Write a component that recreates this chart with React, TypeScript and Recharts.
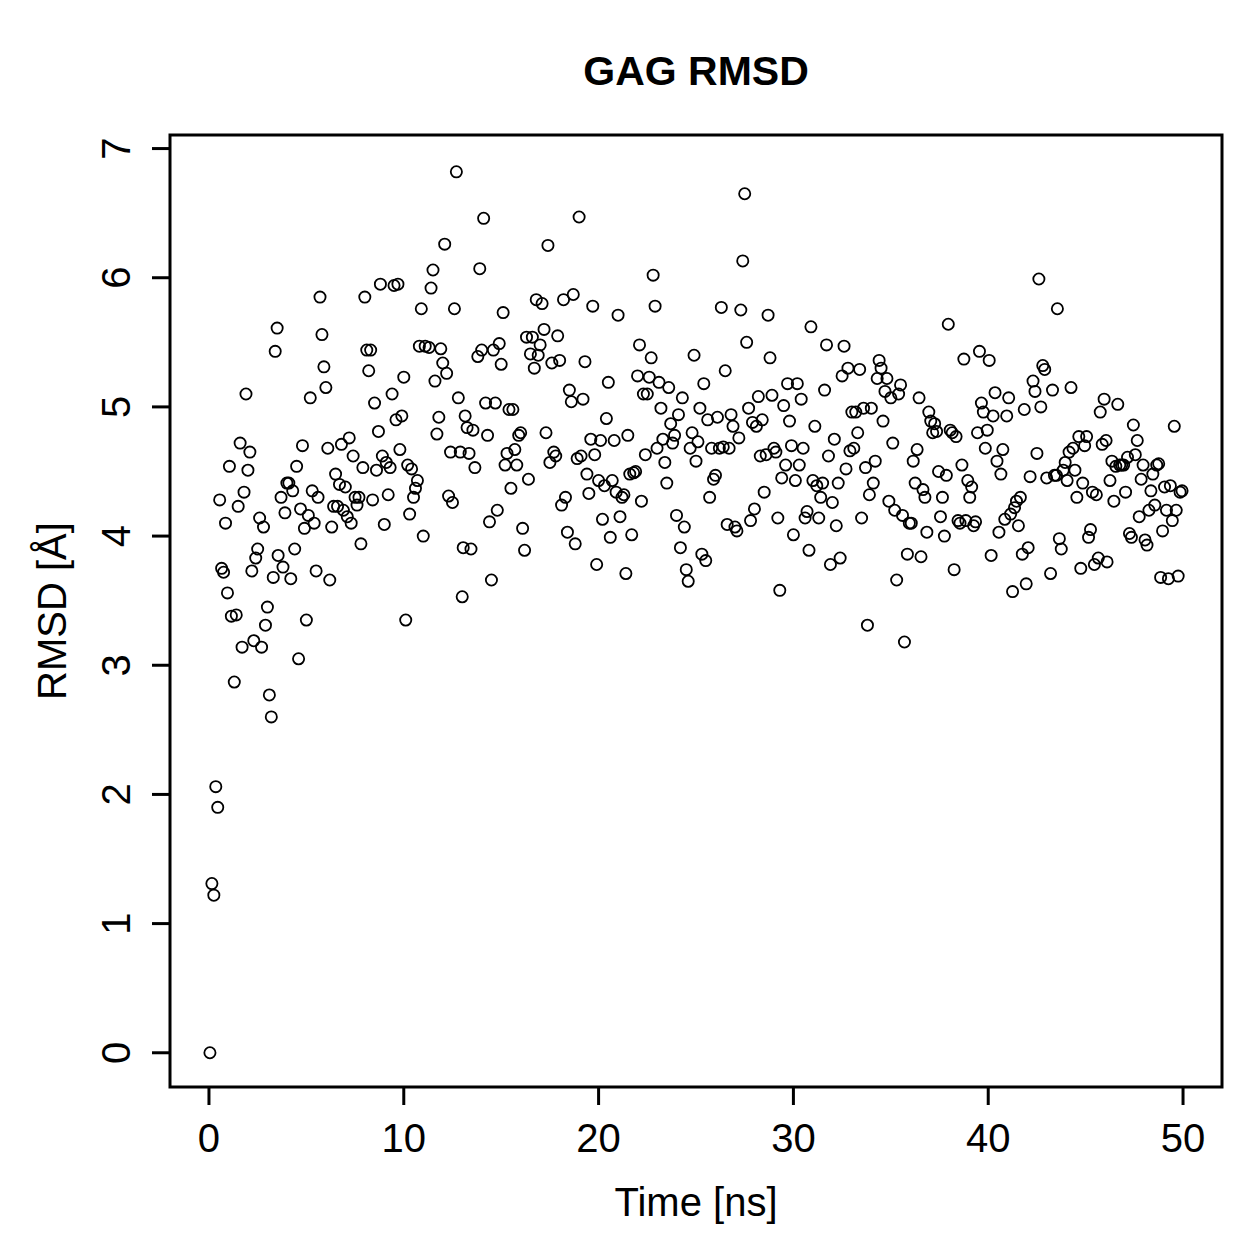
import { ScatterChart, Scatter, XAxis, YAxis, ReferenceArea } from "recharts";

// [time in ns, RMSD in Å]
const run0to10: [number, number][] = [
  [0.05, 0.0], [0.15, 1.31], [0.25, 1.22], [0.35, 2.06], [0.45, 1.9], [0.55, 4.28], [0.65, 3.75], [0.75, 3.72], [0.85, 4.1], [0.95, 3.56],
  [1.05, 4.54], [1.15, 3.38], [1.3, 2.87], [1.4, 3.39], [1.5, 4.23], [1.6, 4.72], [1.7, 3.14], [1.8, 4.34], [1.9, 5.1], [2.0, 4.51],
  [2.1, 4.65], [2.2, 3.73], [2.3, 3.19], [2.4, 3.83], [2.5, 3.9], [2.6, 4.14], [2.7, 3.14], [2.8, 4.07], [2.9, 3.31], [3.0, 3.45],
  [3.1, 2.77], [3.2, 2.6], [3.3, 3.68], [3.4, 5.43], [3.5, 5.61], [3.55, 3.85], [3.7, 4.3], [3.8, 3.76], [3.9, 4.18], [4.0, 4.41],
  [4.1, 4.41], [4.2, 3.67], [4.3, 4.35], [4.4, 3.9], [4.5, 4.54], [4.6, 3.05], [4.7, 4.21], [4.8, 4.7], [4.9, 4.06], [5.0, 3.35],
  [5.1, 4.16], [5.2, 5.07], [5.3, 4.35], [5.4, 4.1], [5.5, 3.73], [5.6, 4.3], [5.7, 5.85], [5.8, 5.56], [5.9, 5.31], [6.0, 5.15],
  [6.1, 4.68], [6.2, 3.66], [6.3, 4.07], [6.4, 4.23], [6.5, 4.48], [6.6, 4.23], [6.7, 4.4], [6.8, 4.71], [6.9, 4.2], [7.0, 4.38],
  [7.1, 4.15], [7.2, 4.76], [7.3, 4.1], [7.4, 4.62], [7.5, 4.3], [7.6, 4.24], [7.7, 4.3], [7.8, 3.94], [7.9, 4.53], [8.0, 5.85],
  [8.1, 5.44], [8.2, 5.28], [8.3, 5.44], [8.4, 4.28], [8.5, 5.03], [8.6, 4.51], [8.7, 4.81], [8.8, 5.95], [8.9, 4.62], [9.0, 4.09],
  [9.1, 4.57], [9.2, 4.32], [9.3, 4.53], [9.4, 5.1], [9.5, 5.94], [9.6, 4.9], [9.7, 5.95], [9.8, 4.67], [9.9, 4.93],
];

const run10to20: [number, number][] = [
  [10.0, 5.23], [10.1, 3.35], [10.2, 4.55], [10.3, 4.17], [10.4, 4.52], [10.5, 4.3], [10.6, 4.37], [10.7, 4.43], [10.8, 5.47], [10.9, 5.76],
  [11.0, 4.0], [11.1, 5.47], [11.3, 5.46], [11.4, 5.92], [11.5, 6.06], [11.6, 5.2], [11.7, 4.79], [11.8, 4.92], [11.9, 5.45], [12.0, 5.34],
  [12.1, 6.26], [12.2, 5.26], [12.3, 4.31], [12.4, 4.65], [12.5, 4.26], [12.6, 5.76], [12.7, 6.82], [12.8, 5.07], [12.9, 4.65], [13.0, 3.53],
  [13.05, 3.91], [13.15, 4.93], [13.25, 4.84], [13.35, 4.64], [13.45, 3.9], [13.55, 4.82], [13.65, 4.53], [13.8, 5.39], [13.9, 6.07], [14.0, 5.44],
  [14.1, 6.46], [14.2, 5.03], [14.3, 4.78], [14.4, 4.11], [14.5, 3.66], [14.6, 5.44], [14.7, 5.03], [14.8, 4.2], [14.9, 5.49], [15.0, 5.33],
  [15.1, 5.73], [15.2, 4.55], [15.3, 4.64], [15.4, 4.98], [15.5, 4.37], [15.6, 4.98], [15.7, 4.67], [15.8, 4.55], [15.9, 4.78], [16.0, 4.8],
  [16.1, 4.06], [16.2, 3.89], [16.3, 5.54], [16.4, 4.44], [16.5, 5.41], [16.6, 5.54], [16.7, 5.3], [16.8, 5.83], [16.9, 5.4], [17.0, 5.48],
  [17.1, 5.8], [17.2, 5.6], [17.3, 4.8], [17.4, 6.25], [17.5, 4.57], [17.6, 5.34], [17.7, 4.65], [17.8, 4.62], [17.9, 5.55], [18.0, 5.36],
  [18.1, 4.24], [18.2, 5.83], [18.3, 4.3], [18.4, 4.03], [18.5, 5.13], [18.6, 5.04], [18.7, 5.87], [18.8, 3.94], [18.9, 4.6], [19.0, 6.47],
  [19.1, 4.62], [19.2, 5.06], [19.3, 5.35], [19.4, 4.48], [19.5, 4.33], [19.6, 4.75], [19.7, 5.78], [19.8, 4.63], [19.9, 3.78],
];

const run20to30: [number, number][] = [
  [20.0, 4.43], [20.1, 4.74], [20.2, 4.13], [20.3, 4.39], [20.4, 4.91], [20.5, 5.19], [20.6, 3.99], [20.7, 4.43], [20.8, 4.74], [20.9, 4.34],
  [21.0, 5.71], [21.1, 4.15], [21.2, 4.3], [21.3, 4.32], [21.4, 3.71], [21.5, 4.78], [21.6, 4.48], [21.7, 4.01], [21.8, 4.49], [21.9, 4.5],
  [22.0, 5.24], [22.1, 5.48], [22.2, 4.27], [22.3, 5.1], [22.4, 4.63], [22.5, 5.1], [22.6, 5.23], [22.7, 5.38], [22.8, 6.02], [22.9, 5.78],
  [23.0, 4.68], [23.1, 5.19], [23.2, 4.99], [23.3, 4.75], [23.4, 4.57], [23.5, 4.41], [23.6, 5.15], [23.7, 4.87], [23.8, 4.72], [23.9, 4.78],
  [24.0, 4.16], [24.1, 4.94], [24.2, 3.91], [24.3, 5.07], [24.4, 4.07], [24.5, 3.74], [24.6, 3.65], [24.7, 4.68], [24.8, 4.8], [24.9, 5.4],
  [25.0, 4.58], [25.1, 4.73], [25.2, 4.99], [25.3, 3.86], [25.4, 5.18], [25.5, 3.81], [25.6, 4.9], [25.7, 4.3], [25.8, 4.68], [25.9, 4.44],
  [26.0, 4.47], [26.1, 4.92], [26.2, 4.68], [26.3, 5.77], [26.4, 4.69], [26.5, 5.28], [26.6, 4.09], [26.7, 4.68], [26.8, 4.94], [26.9, 4.85],
  [27.0, 4.07], [27.1, 4.04], [27.2, 4.76], [27.3, 5.75], [27.4, 6.13], [27.5, 6.65], [27.6, 5.5], [27.7, 4.99], [27.8, 4.12], [27.9, 4.88],
  [28.0, 4.21], [28.1, 4.85], [28.2, 5.08], [28.3, 4.62], [28.4, 4.9], [28.5, 4.34], [28.6, 4.63], [28.7, 5.71], [28.8, 5.38], [28.9, 5.09],
  [29.0, 4.68], [29.1, 4.65], [29.2, 4.14], [29.3, 3.58], [29.4, 4.45], [29.5, 5.01], [29.6, 4.55], [29.7, 5.18], [29.8, 4.89], [29.9, 4.7],
];

const run30to40: [number, number][] = [
  [30.0, 4.01], [30.1, 4.43], [30.2, 5.18], [30.3, 4.55], [30.4, 5.06], [30.5, 4.68], [30.6, 4.14], [30.7, 4.19], [30.8, 3.89], [30.9, 5.62],
  [31.0, 4.43], [31.1, 4.85], [31.2, 4.39], [31.3, 4.14], [31.4, 4.3], [31.5, 4.41], [31.6, 5.13], [31.7, 5.48], [31.8, 4.62], [31.9, 3.78],
  [32.0, 4.26], [32.1, 4.75], [32.2, 4.08], [32.3, 4.41], [32.4, 3.83], [32.5, 5.24], [32.6, 5.47], [32.7, 4.52], [32.8, 5.3], [32.9, 4.66],
  [33.0, 4.96], [33.1, 4.68], [33.2, 4.96], [33.3, 4.8], [33.4, 5.29], [33.5, 4.14], [33.6, 4.99], [33.7, 4.53], [33.8, 3.31], [33.9, 4.32],
  [34.0, 4.99], [34.1, 4.41], [34.2, 4.58], [34.3, 5.22], [34.4, 5.36], [34.5, 5.3], [34.6, 4.89], [34.7, 5.12], [34.8, 5.22], [34.9, 4.27],
  [35.0, 5.07], [35.1, 4.72], [35.2, 4.2], [35.3, 3.66], [35.4, 5.1], [35.5, 5.17], [35.6, 4.16], [35.7, 3.18], [35.85, 3.86], [35.95, 4.1],
  [36.05, 4.1], [36.15, 4.58], [36.25, 4.41], [36.35, 4.67], [36.45, 5.07], [36.55, 3.84], [36.65, 4.36], [36.75, 4.3], [36.85, 4.03], [36.95, 4.96],
  [37.05, 4.89], [37.15, 4.8], [37.25, 4.87], [37.35, 4.81], [37.45, 4.5], [37.55, 4.15], [37.65, 4.3], [37.75, 4.0], [37.85, 4.47], [37.95, 5.64],
  [38.05, 4.82], [38.15, 4.8], [38.25, 3.74], [38.35, 4.77], [38.45, 4.12], [38.55, 4.1], [38.65, 4.55], [38.75, 5.37], [38.85, 4.12], [38.95, 4.43],
  [39.05, 4.3], [39.15, 4.38], [39.25, 4.08], [39.35, 4.11], [39.45, 4.8], [39.55, 5.43], [39.65, 5.03], [39.75, 4.96], [39.85, 4.68], [39.95, 4.82],
];

const run40to50: [number, number][] = [
  [40.05, 5.36], [40.15, 3.85], [40.25, 4.93], [40.35, 5.11], [40.45, 4.58], [40.55, 4.03], [40.65, 4.48], [40.75, 4.67], [40.85, 4.13], [40.95, 4.93],
  [41.05, 5.07], [41.15, 4.17], [41.25, 3.57], [41.35, 4.22], [41.45, 4.27], [41.55, 4.08], [41.65, 4.3], [41.75, 3.86], [41.85, 4.98], [41.95, 3.63],
  [42.05, 3.91], [42.15, 4.46], [42.3, 5.2], [42.4, 5.12], [42.5, 4.64], [42.6, 5.99], [42.7, 5.0], [42.8, 5.32], [42.9, 5.29], [43.0, 4.45],
  [43.2, 3.71], [43.3, 5.13], [43.4, 4.47], [43.5, 4.47], [43.55, 5.76], [43.65, 3.98], [43.75, 3.9], [43.85, 4.51], [43.95, 4.57], [44.05, 4.43],
  [44.15, 4.65], [44.25, 5.15], [44.35, 4.68], [44.45, 4.51], [44.55, 4.3], [44.65, 4.77], [44.75, 3.75], [44.85, 4.41], [44.95, 4.7], [45.05, 4.77],
  [45.15, 3.99], [45.25, 4.05], [45.35, 4.34], [45.45, 3.78], [45.55, 4.32], [45.65, 3.83], [45.75, 4.96], [45.85, 4.71], [45.95, 5.06], [46.05, 4.74],
  [46.1, 3.8], [46.25, 4.43], [46.35, 4.58], [46.45, 4.27], [46.55, 4.54], [46.65, 5.02], [46.75, 4.55], [46.85, 4.55], [46.95, 4.55], [47.05, 4.34],
  [47.15, 4.61], [47.25, 4.02], [47.35, 3.99], [47.45, 4.86], [47.55, 4.63], [47.65, 4.74], [47.75, 4.15], [47.85, 4.44], [47.95, 4.55], [48.05, 3.97],
  [48.15, 3.93], [48.25, 4.2], [48.35, 4.35], [48.45, 4.48], [48.55, 4.24], [48.65, 4.55], [48.75, 4.56], [48.85, 3.68], [48.95, 4.04], [49.05, 4.38],
  [49.15, 4.2], [49.25, 3.67], [49.35, 4.39], [49.45, 4.12], [49.55, 4.85], [49.65, 4.2], [49.75, 3.69], [49.85, 4.34], [49.95, 4.35],
];

const xTicks = [0, 10, 20, 30, 40, 50];
const yTicks = [0, 1, 2, 3, 4, 5, 6, 7];

const points = [...run0to10, ...run10to20, ...run20to30, ...run30to40, ...run40to50].map(
  ([t, r]) => ({ t, r })
);

const FONT = "'Liberation Sans', Arial, Helvetica, sans-serif";

const Ring = (props: any) => {
  const { cx, cy } = props;
  if (cx == null || cy == null) return null;
  return <circle cx={cx} cy={cy} r={5.6} fill="none" stroke="#000" strokeWidth={1.8} />;
};

const XTick = ({ x, payload }: any) => (
  <text x={x} y={1144} textAnchor="middle" fontSize={40} fontFamily={FONT} fill="#000">
    {payload.value}
  </text>
);

const YTick = ({ y, payload }: any) => (
  <text
    x={122}
    y={y}
    transform={`rotate(-90, 122, ${y})`}
    textAnchor="middle"
    fontSize={40}
    fontFamily={FONT}
    fill="#000"
  >
    {payload.value}
  </text>
);

export default function App() {
  return (
    <ScatterChart
      width={1243}
      height={1243}
      margin={{ top: 127, right: 29, left: 0, bottom: 0 }}
      style={{ background: "#fff" }}
    >
      <XAxis
        type="number"
        dataKey="t"
        domain={[-2, 52]}
        ticks={xTicks}
        height={164}
        axisLine={false}
        tickSize={18}
        tickLine={{ stroke: "#000", strokeWidth: 3 }}
        tick={<XTick />}
      />
      <YAxis
        type="number"
        dataKey="r"
        domain={[-0.265, 7.105]}
        ticks={yTicks}
        width={162}
        axisLine={false}
        tickSize={18}
        tickLine={{ stroke: "#000", strokeWidth: 3 }}
        tick={<YTick />}
      />
      <ReferenceArea
        x1={-2}
        x2={52}
        y1={-0.265}
        y2={7.105}
        fill="none"
        fillOpacity={0}
        stroke="#000"
        strokeWidth={3}
        ifOverflow="visible"
      />
      <Scatter data={points} shape={<Ring />} isAnimationActive={false} />
      <text x={688} y={77} textAnchor="middle" fontSize={41} fontWeight="bold" fontFamily={FONT} fill="#000">
        GAG RMSD
      </text>
      <text x={688} y={1208} textAnchor="middle" fontSize={40} fontFamily={FONT} fill="#000">
        Time [ns]
      </text>
      <text
        x={58}
        y={603}
        transform="rotate(-90, 58, 603)"
        textAnchor="middle"
        fontSize={40}
        fontFamily={FONT}
        fill="#000"
      >
        RMSD [Å]
      </text>
    </ScatterChart>
  );
}
